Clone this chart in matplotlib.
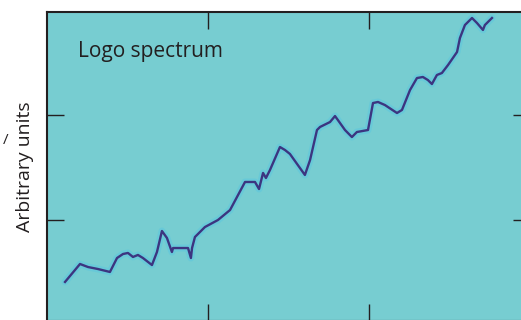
import numpy as np
import matplotlib
matplotlib.use("Agg")
import matplotlib.pyplot as plt

# spectrum trace (x in tick units, y in arbitrary units)
wave = [0.112, 0.205, 0.255, 0.317, 0.391, 0.435, 0.472, 0.503, 0.534, 0.565,
        0.596, 0.652, 0.683, 0.714, 0.745, 0.776, 0.783, 0.876, 0.894, 0.901,
        0.919, 0.938, 0.981, 1.062, 1.137, 1.230, 1.292, 1.317, 1.342, 1.360,
        1.385, 1.447, 1.478, 1.509, 1.602, 1.634, 1.677, 1.696, 1.758, 1.789,
        1.807, 1.851, 1.894, 1.925, 1.994, 2.025, 2.056, 2.099, 2.174, 2.205,
        2.255, 2.298, 2.335, 2.366, 2.391, 2.422, 2.453, 2.491, 2.547, 2.565,
        2.596, 2.640, 2.671, 2.708, 2.720, 2.764]
signal = [0.410, 0.581, 0.552, 0.533, 0.505, 0.638, 0.676, 0.686, 0.648, 0.667,
          0.638, 0.571, 0.695, 0.895, 0.829, 0.695, 0.733, 0.733, 0.638, 0.733,
          0.838, 0.867, 0.933, 1.000, 1.095, 1.362, 1.362, 1.295, 1.448, 1.400,
          1.476, 1.695, 1.667, 1.629, 1.429, 1.571, 1.857, 1.886, 1.933, 1.990,
          1.952, 1.857, 1.790, 1.838, 1.857, 2.114, 2.124, 2.095, 2.019, 2.048,
          2.238, 2.352, 2.362, 2.333, 2.295, 2.381, 2.400, 2.476, 2.600, 2.733,
          2.857, 2.924, 2.876, 2.810, 2.857, 2.924]

xticks = [1, 2]
yticks = [1, 2]

bg = "#77cdd1"
ink = "#231f20"

fig = plt.figure(figsize=(5.21, 3.2), dpi=100)
ax = fig.add_axes([0.0902, -0.003125, 0.927, 0.965625])
ax.set_facecolor(bg)

# soft halo then the trace itself
ax.plot(wave, signal, color="#4cc4e6", lw=5, alpha=0.35, solid_capstyle="round")
ax.plot(wave, signal, color="#3c3580", lw=1.7, solid_joinstyle="round")

ax.set_xlim(0, 3)
ax.set_ylim(0.038, 2.981)
ax.set_xticks(xticks)
ax.set_yticks(yticks)
ax.tick_params(direction="in", length=12.2, width=1.0, color=ink,
               top=True, right=True, labelleft=False, labelbottom=False)
for s in ax.spines.values():
    s.set_color(ink)
    s.set_linewidth(1.5)

ax.text(0.064, 0.854, "Logo spectrum", transform=ax.transAxes,
        fontsize=15, family="Open Sans", color=ink, va="baseline", ha="left")

fig.text(25 / 521, 1 - 167 / 320, "Arbitrary units", rotation=90,
         fontsize=14, family="Open Sans", color=ink, ha="center", va="center")
fig.text(6 / 521, 1 - 141 / 320, "/", fontsize=11, family="Open Sans",
         color=ink, ha="center", va="center")

fig.savefig("out.png", dpi=100)
